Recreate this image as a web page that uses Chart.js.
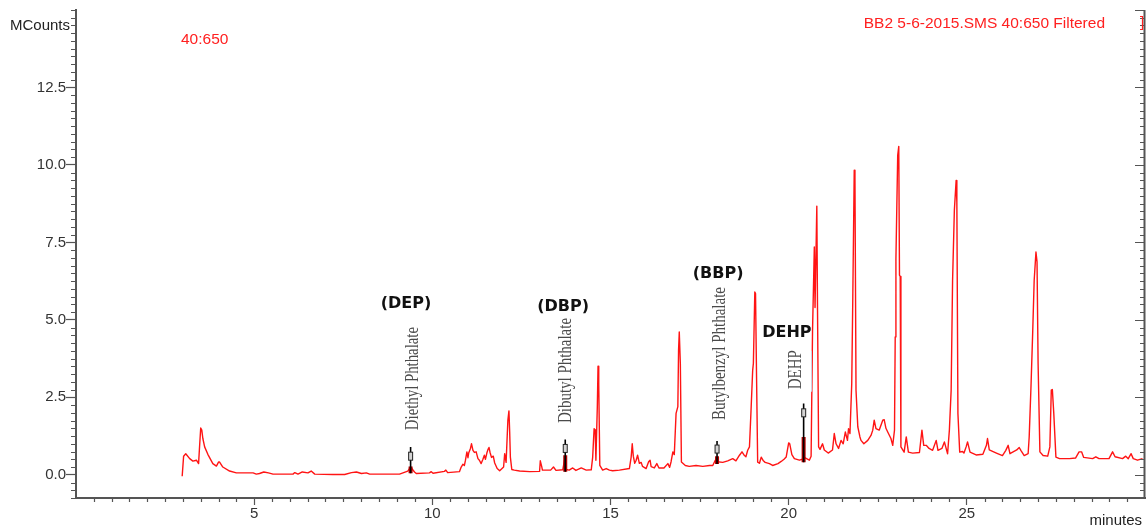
<!DOCTYPE html>
<html><head><meta charset="utf-8">
<script src="https://cdn.jsdelivr.net/npm/chart.js@4.4.0/dist/chart.umd.min.js"></script>
<style>html,body{margin:0;padding:0;background:#fff;overflow:hidden}canvas{display:block}</style>
</head><body>
<canvas id="c" width="1146" height="529"></canvas>
<script>
// ---- data ----
const rtMin = [2.98,3.02,3.08,3.19,3.28,3.38,3.44,3.47,3.50,3.53,3.56,3.61,3.70,3.84,3.94,4.00,4.03,4.12,4.31,4.50,4.97,5.06,5.15,5.27,5.40,5.53,6.09,6.14,6.23,6.35,6.51,6.60,6.70,7.21,7.54,7.73,7.87,8.01,8.15,8.24,9.08,9.31,9.36,9.39,9.50,9.55,9.92,9.97,10.02,10.34,10.38,10.43,10.76,10.81,10.86,10.90,10.93,10.97,11.00,11.02,11.07,11.10,11.14,11.18,11.23,11.28,11.32,11.37,11.42,11.46,11.49,11.53,11.56,11.59,11.62,11.66,11.71,11.75,11.82,11.89,12.00,12.03,12.07,12.12,12.15,12.17,12.19,12.23,12.30,12.45,12.73,13.01,13.03,13.07,13.09,13.32,13.40,13.47,13.66,13.71,13.73,13.76,13.84,13.94,14.03,14.18,14.24,14.32,14.46,14.50,14.54,14.57,14.59,14.63,14.65,14.67,14.70,14.78,14.88,14.97,15.06,15.25,15.53,15.58,15.61,15.64,15.68,15.72,15.76,15.81,15.86,15.90,16.00,16.07,16.11,16.14,16.23,16.30,16.36,16.50,16.61,16.66,16.70,16.75,16.79,16.84,16.89,16.91,16.93,16.96,16.99,17.10,17.21,17.40,17.59,17.78,17.87,17.94,18.00,18.15,18.29,18.43,18.52,18.62,18.69,18.76,18.80,18.85,18.90,18.94,18.99,19.01,19.05,19.07,19.10,19.13,19.18,19.23,19.29,19.34,19.46,19.55,19.70,19.79,19.87,19.93,20.00,20.03,20.09,20.16,20.30,20.39,20.45,20.58,20.63,20.67,20.72,20.74,20.79,20.81,20.84,20.88,20.95,21.00,21.11,21.23,21.28,21.33,21.40,21.47,21.53,21.59,21.65,21.68,21.72,21.77,21.80,21.84,21.86,21.89,21.94,22.00,22.03,22.11,22.22,22.31,22.36,22.40,22.45,22.54,22.64,22.68,22.73,22.78,22.87,22.92,22.97,22.99,23.01,23.06,23.09,23.11,23.13,23.15,23.24,23.30,23.36,23.48,23.67,23.74,23.79,23.86,23.94,24.04,24.14,24.19,24.30,24.37,24.46,24.51,24.56,24.60,24.65,24.70,24.72,24.75,24.80,24.88,24.92,24.98,25.02,25.09,25.26,25.45,25.55,25.58,25.63,25.83,26.00,26.09,26.16,26.21,26.40,26.47,26.52,26.61,26.72,26.75,26.80,26.85,26.89,26.94,26.97,27.00,27.05,27.14,27.27,27.33,27.37,27.40,27.44,27.50,27.60,27.88,28.05,28.15,28.22,28.28,28.53,28.62,28.71,28.99,29.09,29.16,29.37,29.46,29.53,29.61,29.67,29.79,29.93];
const mcounts = [-0.05,0.60,0.68,0.52,0.44,0.47,0.36,0.95,1.51,1.44,1.17,0.90,0.66,0.36,0.28,0.41,0.41,0.25,0.12,0.06,0.06,0.02,0.04,0.09,0.06,0.02,0.02,0.07,0.02,0.09,0.06,0.12,0.02,0.01,0.01,0.07,0.09,0.04,0.06,0.02,0.02,0.12,0.20,0.25,0.09,0.04,0.06,0.10,0.05,0.11,0.15,0.07,0.10,0.25,0.34,0.30,0.47,0.74,0.55,0.70,0.85,1.00,0.79,0.72,0.74,0.52,0.47,0.36,0.50,0.63,0.50,0.70,0.81,0.88,0.72,0.56,0.60,0.38,0.20,0.13,0.25,0.68,0.40,1.76,2.06,1.40,0.57,0.17,0.15,0.12,0.10,0.11,0.45,0.26,0.15,0.15,0.25,0.14,0.16,0.47,0.50,0.17,0.15,0.22,0.14,0.22,0.19,0.15,0.16,0.57,1.49,1.45,0.47,2.19,3.50,2.94,0.30,0.15,0.20,0.15,0.13,0.15,0.20,0.57,1.00,0.60,0.37,0.47,0.63,0.37,0.40,0.27,0.20,0.42,0.47,0.26,0.22,0.36,0.22,0.22,0.36,0.24,0.42,0.74,0.65,1.98,2.20,4.02,4.61,3.59,0.41,0.30,0.27,0.30,0.27,0.30,0.30,0.47,0.42,0.40,0.45,0.52,0.45,0.63,0.74,0.62,0.58,0.79,0.90,1.98,3.37,3.60,5.90,5.85,3.05,0.41,0.37,0.57,0.45,0.40,0.36,0.30,0.36,0.43,0.50,0.57,1.03,1.00,0.65,0.52,0.47,0.50,0.55,0.47,0.60,4.66,7.35,5.40,8.67,5.30,0.90,0.82,1.00,0.80,0.70,0.80,1.33,1.00,0.85,1.11,1.00,1.38,1.11,1.49,1.33,2.94,5.74,9.83,9.60,2.73,1.55,1.22,1.11,1.00,1.11,1.27,1.44,1.76,1.49,1.44,1.76,1.78,1.50,1.38,1.17,0.95,1.44,4.45,6.98,10.31,10.60,6.44,6.40,0.90,0.73,1.22,0.73,0.70,0.72,1.44,0.95,0.95,0.85,0.79,1.11,0.79,0.85,1.06,0.68,1.44,2.73,6.28,8.54,9.50,8.80,1.98,0.73,0.75,0.70,0.90,1.06,0.73,0.64,0.66,0.95,1.17,0.80,0.70,0.62,0.78,0.95,0.68,0.80,0.88,0.78,0.62,0.68,1.22,2.83,4.66,6.28,7.19,6.87,3.59,0.74,0.62,0.60,0.90,2.73,2.75,1.98,0.57,0.52,0.52,0.54,0.74,0.74,0.56,0.52,0.58,0.52,0.52,0.74,0.58,0.52,0.60,0.52,0.68,0.52,0.47,0.52];

const compoundNames = ['Diethyl Phthalate','Dibutyl Phthalate','Butylbenzyl Phthalate','DEHP'];
const compoundTags  = ['(DEP)','(DBP)','(BBP)','DEHP'];
const compoundRt    = [9.39, 13.73, 17.99, 20.42];
const markerBase    = [0.05, 0.10, 0.35, 0.40];
const markerTop     = [0.90, 1.14, 1.09, 2.30];
const markerBox     = [0.60, 0.85, 0.83, 2.00];
const peakFillTop   = [0.27, 0.63, 0.60, 1.22];

const xTickValues = [5,10,15,20,25];
const xTickLabels = ['5','10','15','20','25'];
const yTickValues = [0,2.5,5,7.5,10,12.5];
const yTickLabels = ['0.0','2.5','5.0','7.5','10.0','12.5'];
const yUnitLabel = 'MCounts';
const yUnitValue = 14.5;
const xUnitLabel = 'minutes';
const massRangeLabel = '40:650';
const fileLabel = 'BB2 5-6-2015.SMS 40:650 Filtered';

// ---- build datasets ----
const trace = rtMin.map((t,i)=>({x:t, y:mcounts[i]}));
const stems = compoundRt.flatMap((t,i)=>[{x:t,y:markerBase[i]},{x:t,y:markerTop[i]},{x:t,y:null}]);
const fills = compoundRt.flatMap((t,i)=>[{x:t,y:markerBase[i]},{x:t,y:peakFillTop[i]},{x:t,y:null}]);
const boxes = compoundRt.map((t,i)=>({x:t, y:markerBox[i]}));

const boxImg = document.createElement('canvas');
boxImg.width = 7; boxImg.height = 11;
(function(){const g=boxImg.getContext('2d');g.fillStyle='#d4d4d4';g.fillRect(1,1,5,9);g.strokeStyle='#222';g.lineWidth=1;g.strokeRect(1.5,1.5,4,8);})();

const SANS = "'Liberation Sans', Arial, sans-serif";

const decor = {
  id:'decor',
  afterDraw(chart){
    const ctx = chart.ctx, xs = chart.scales.x, ys = chart.scales.y, a = chart.chartArea;
    ctx.save();
    ctx.strokeStyle = '#555'; ctx.lineWidth = 1.2;
    ctx.beginPath();
    for (let i=-3;i<=60;i++){
      const v=i*0.25, y=Math.round(ys.getPixelForValue(v))+0.5;
      const major = (i%10===0);
      if(!major || v===15){ ctx.moveTo(a.left-5,y); ctx.lineTo(a.left,y); }
      const L = major?10:5;
      ctx.moveTo(a.right-L,y); ctx.lineTo(a.right,y);
    }
    for (let i=1;i<60;i++){
      if(i%10===0) continue;
      const x=Math.round(xs.getPixelForValue(i*0.5))+0.5;
      ctx.moveTo(x,a.bottom); ctx.lineTo(x,a.bottom+4);
    }
    ctx.stroke();
    ctx.lineWidth = 2; ctx.beginPath();
    ctx.moveTo(a.right-0.5,a.top); ctx.lineTo(a.right-0.5,a.bottom); ctx.stroke();
    // small red bracket at top of right axis
    ctx.strokeStyle = '#ff2020'; ctx.lineWidth = 1.2; ctx.beginPath();
    ctx.moveTo(a.right-5, 16.5); ctx.lineTo(a.right-2.5, 16.5); ctx.lineTo(a.right-2.5, 29.5); ctx.lineTo(a.right-5, 29.5);
    ctx.stroke();
    ctx.fillStyle = '#222'; ctx.font = '15px '+SANS;
    ctx.textAlign='right'; ctx.textBaseline='middle';
    ctx.fillText(yUnitLabel, a.left-6, ys.getPixelForValue(yUnitValue));
    ctx.fillText(xUnitLabel, 1142, 521);
    ctx.fillStyle = '#ff2020'; ctx.font = '15.5px '+SANS; ctx.textAlign='left';
    ctx.fillText(massRangeLabel, 181, 40);
    ctx.textAlign='right';
    ctx.fillText(fileLabel, 1105, 24);
    const tagPos  = [[9.26,5.51],[13.67,5.41],[18.02,6.48],[19.95,4.58]];
    const namePos = [[9.42,1.44,4.77],[13.72,1.67,5.06],[18.05,1.77,6.06],[20.18,2.76,4.02]];
    ctx.font = 'bold 16px "DejaVu Sans", sans-serif'; ctx.fillStyle='#111';
    ctx.textAlign='center'; ctx.textBaseline='middle';
    compoundTags.forEach((s,i)=>ctx.fillText(s, xs.getPixelForValue(tagPos[i][0]), ys.getPixelForValue(tagPos[i][1])));
    ctx.fillStyle = '#4a4a4a';
    compoundNames.forEach((s,i)=>{
      const cx = xs.getPixelForValue(namePos[i][0]);
      const yb = ys.getPixelForValue(namePos[i][1]);
      const yt = ys.getPixelForValue(namePos[i][2]);
      ctx.save();
      ctx.font = '19px "Liberation Serif", "Times New Roman", serif';
      const w = ctx.measureText(s).width;
      ctx.translate(cx, yb); ctx.rotate(-Math.PI/2); ctx.scale((yb-yt)/w, 1);
      ctx.textAlign='left'; ctx.textBaseline='middle';
      ctx.fillText(s, 0, 1);
      ctx.restore();
    });
    ctx.strokeStyle='#c9d2e2'; ctx.lineWidth=1;
    ctx.beginPath();
    const ex = Math.round(xs.getPixelForValue(20.62))+0.5;
    ctx.moveTo(ex, ys.getPixelForValue(4.0)); ctx.lineTo(ex, ys.getPixelForValue(2.68));
    ctx.stroke();
    ctx.restore();
  }
};

new Chart(document.getElementById('c'), {
  type:'line',
  data:{ datasets:[
    { data:trace, borderColor:'#ff1414', borderWidth:1.4, pointRadius:0, tension:0, order:4 },
    { data:fills, borderColor:'#b40000', borderWidth:4, pointRadius:0, spanGaps:false, order:3 },
    { data:stems, borderColor:'#000', borderWidth:1.6, pointRadius:0, spanGaps:false, order:2 },
    { type:'scatter', data:boxes, pointStyle:boxImg, pointRadius:5, order:1 }
  ]},
  options:{
    responsive:false, animation:false, devicePixelRatio:1,
    layout:{ autoPadding:false, padding:{ top:10, right:1, left:0, bottom:0 } },
    plugins:{ legend:{display:false}, tooltip:{enabled:false} },
    elements:{ line:{ borderJoinStyle:'round' } },
    scales:{
      x:{ type:'linear', min:0, max:30,
        afterFit(s){ s.height = 31; s.paddingLeft = 0; s.paddingRight = 0; },
        afterBuildTicks(s){ s.ticks = xTickValues.map(v=>({value:v})); },
        ticks:{ callback:(v,i)=>xTickLabels[i], autoSkip:false, maxRotation:0, padding:0,
                font:{family:SANS, size:15}, color:'#333' },
        grid:{ drawOnChartArea:false, drawTicks:true, tickLength:7, tickColor:'#555', tickWidth:1.2 },
        border:{ display:true, color:'#555', width:2 } },
      y:{ type:'linear', min:-0.75, max:15,
        afterFit(s){ s.width = 76; s.paddingTop = 0; s.paddingBottom = 0; },
        afterBuildTicks(s){ s.ticks = yTickValues.map(v=>({value:v})); },
        ticks:{ callback:(v,i)=>yTickLabels[i], autoSkip:false, padding:0,
                font:{family:SANS, size:15}, color:'#333' },
        grid:{ drawOnChartArea:false, drawTicks:true, tickLength:10, tickColor:'#555', tickWidth:1.2 },
        border:{ display:true, color:'#555', width:2 } }
    }
  },
  plugins:[decor]
});
</script>
</body></html>
